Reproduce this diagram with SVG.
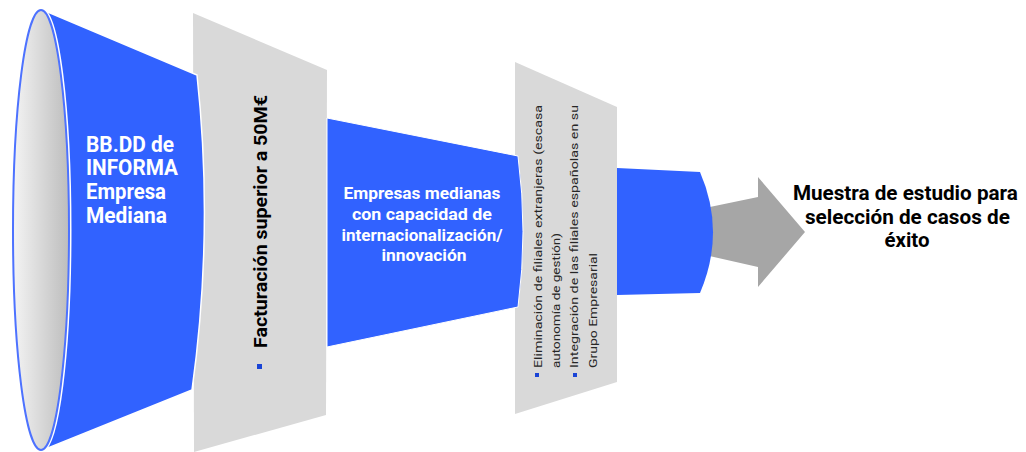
<svg xmlns="http://www.w3.org/2000/svg" width="1026" height="452" viewBox="0 0 1026 452">
  <defs>
    <linearGradient id="ellGrad" x1="0" y1="0" x2="1" y2="0">
      <stop offset="0" stop-color="#f4f4f4"/>
      <stop offset="1" stop-color="#bdbdbd"/>
    </linearGradient>
  </defs>
  <style>
    .blue { fill: #3162ff; }
    .panel { fill: #d9d9d9; }
    .wt { fill: #ffffff; font-family: Roboto, "Liberation Sans", sans-serif; font-weight: bold; }
    .bt { fill: #000000; font-family: Roboto, "Liberation Sans", sans-serif; font-weight: bold; }
    .gt { fill: #262626; font-family: Roboto, "Liberation Sans", sans-serif; font-size: 11.5px; }
    .bullet { fill: #1a44d6; }
  </style>
  <rect width="1026" height="452" fill="#ffffff"/>

  <g id="connectors">
    <polygon points="705,208 758,197 758,177 805,232 758,287 758,267 705,255" fill="#a6a6a6"/>
  </g>

  <g id="panel-facturacion">
    <polygon class="panel" points="193,13 327,70 326,415 194,452"/>
    <text class="bt" font-size="19" transform="translate(267,348) rotate(-90)" textLength="253" lengthAdjust="spacingAndGlyphs">Facturación superior a 50M€</text>
    <rect class="bullet" x="257" y="364" width="5" height="5"/>
  </g>

  <g id="panel-filiales">
    <polygon class="panel" points="515,62 617,107 617,382 515,414"/>
    <text class="gt" transform="translate(542,368) rotate(-90)" textLength="263" lengthAdjust="spacingAndGlyphs">Eliminación de filiales extranjeras (escasa</text>
    <text class="gt" transform="translate(560,368) rotate(-90)" textLength="135" lengthAdjust="spacingAndGlyphs">autonomía de gestión)</text>
    <text class="gt" transform="translate(578,368) rotate(-90)" textLength="263" lengthAdjust="spacingAndGlyphs">Integración de las filiales españolas en su</text>
    <text class="gt" transform="translate(597,368) rotate(-90)" textLength="115" lengthAdjust="spacingAndGlyphs">Grupo Empresarial</text>
    <rect class="bullet" x="535" y="373" width="4" height="4"/>
    <rect class="bullet" x="573" y="373" width="4" height="4"/>
  </g>

  <g id="funnel-bbdd">
    <path class="blue" d="M43,10 L197,75 Q214,232 192,390 L43,450 Z" stroke="#ffffff" stroke-width="1.5"/>
    <ellipse cx="41" cy="230" rx="28" ry="220" fill="none" stroke="#ffffff" stroke-width="5"/>
    <ellipse cx="41" cy="230" rx="28" ry="220" fill="url(#ellGrad)" stroke="#4d72ff" stroke-width="2"/>
    <text class="wt" font-size="22">
      <tspan x="86" y="152" textLength="88" lengthAdjust="spacingAndGlyphs">BB.DD de</tspan>
      <tspan x="86" y="175" textLength="92" lengthAdjust="spacingAndGlyphs">INFORMA</tspan>
      <tspan x="86" y="199" textLength="80" lengthAdjust="spacingAndGlyphs">Empresa</tspan>
      <tspan x="86" y="223" textLength="81" lengthAdjust="spacingAndGlyphs">Mediana</tspan>
    </text>
  </g>

  <g id="funnel-medianas">
    <path class="blue" d="M327,118 L518,156 Q528,232 518,307 L327,347 Z" stroke="#ffffff" stroke-width="1"/>
    <text class="wt" font-size="16" text-anchor="middle">
      <tspan x="424" y="199" textLength="157" lengthAdjust="spacingAndGlyphs">Empresas medianas</tspan>
      <tspan x="424" y="220" textLength="140" lengthAdjust="spacingAndGlyphs">con capacidad  de</tspan>
      <tspan x="424" y="241" textLength="161" lengthAdjust="spacingAndGlyphs">internacionalización/</tspan>
      <tspan x="424" y="261" textLength="85" lengthAdjust="spacingAndGlyphs">innovación</tspan>
    </text>
  </g>

  <g id="funnel-final">
    <path class="blue" d="M617,168 L700,172 Q726,232 700,293 L617,295 Z"/>
  </g>

  <g id="resultado">
    <text class="bt" font-size="21" text-anchor="middle">
      <tspan x="908" y="200" textLength="225" lengthAdjust="spacingAndGlyphs">Muestra de estudio para</tspan>
      <tspan x="910" y="224" textLength="205" lengthAdjust="spacingAndGlyphs">selección de casos de</tspan>
      <tspan x="907" y="247" textLength="45" lengthAdjust="spacingAndGlyphs">éxito</tspan>
    </text>
  </g>
</svg>
